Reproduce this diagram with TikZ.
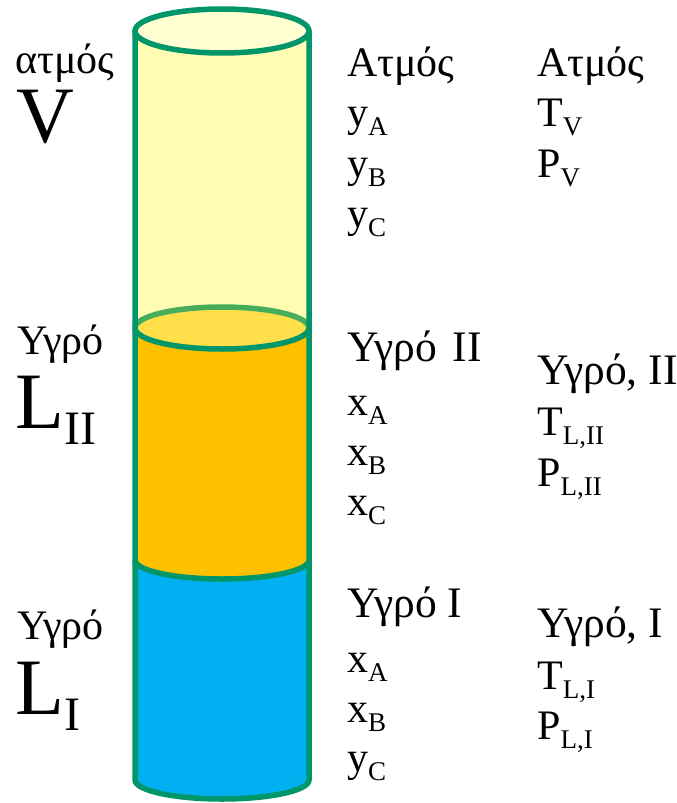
\documentclass[tikz,border=0pt]{standalone}
\usepackage{fontspec}
\setmainfont{Liberation Serif}
\definecolor{outl}{HTML}{00966A}
\definecolor{outlback}{HTML}{47AD5B}
\definecolor{yelbody}{HTML}{FFFDB3}
\definecolor{yeltop}{HTML}{FFFFD2}
\definecolor{goldtop}{HTML}{FFE04A}
\definecolor{orangebody}{HTML}{FFC000}
\definecolor{bluebody}{HTML}{00B0F0}
\newcommand{\sbs}[1]{\raisebox{-0.22em}{\fontsize{27}{27}\selectfont #1}}
\newcommand{\sbb}[1]{\raisebox{-0.2em}{\fontsize{48}{48}\selectfont #1}}
\tikzset{
  lbl/.style={anchor=base west, inner sep=0pt, font=\fontsize{42}{50}\selectfont},
  head/.style={anchor=base west, inner sep=0pt, font=\fontsize{43.5}{52}\selectfont},
  big/.style={anchor=base west, inner sep=0pt, font=\fontsize{80}{88}\selectfont},
  wall/.style={draw=outl, line width=5.5pt},
}
\begin{document}
\begin{tikzpicture}[x=1pt,y=-1pt]
\useasboundingbox (0,0) rectangle (677,803);
% blue part
\fill[bluebody] (135,560) -- (135,780) arc[start angle=180, end angle=360, x radius=87, y radius=-19] -- (309,560) arc[start angle=0, end angle=-180, x radius=87, y radius=19] -- cycle;
% orange part
\fill[orangebody] (135,328) -- (135,560) arc[start angle=180, end angle=360, x radius=87, y radius=-19] -- (309,328) -- cycle;
% yellow part
\fill[yelbody] (135,31) rectangle (309,328);
% middle ellipse
\fill[goldtop] (222,328) ellipse[x radius=87, y radius=21];
\draw[outlback, line width=5.5pt] (135,328) arc[start angle=180, end angle=0, x radius=87, y radius=-21];
\draw[wall] (135,328) arc[start angle=180, end angle=360, x radius=87, y radius=-21];
% top ellipse
\fill[yeltop] (222,31) ellipse[x radius=87, y radius=22];
\draw[wall] (222,31) ellipse[x radius=87, y radius=22];
% walls
\draw[wall, line join=round] (135,31) -- (135,780) arc[start angle=180, end angle=360, x radius=87, y radius=-19] -- (309,31);
\draw[wall] (135,560) arc[start angle=180, end angle=360, x radius=87, y radius=-19];
% left labels
\node[lbl] (atmL) at (15,73) {ατμός};
\node[big] (V) at (16,142) {V};
\node[lbl] (ygrL2) at (17,354) {Υγρό};
\node[big] (L2) at (15,428) {L\sbb{II}};
\node[lbl] (ygrL1) at (17,639) {Υγρό};
\node[big] (L1) at (15,714) {L\sbb{I}};
% middle labels
\node[lbl] (atmM) at (347,76) {Ατμός};
\node[lbl] (yA) at (347,126) {y\sbs{A}};
\node[lbl] (yB) at (347,177) {y\sbs{B}};
\node[lbl] (yC) at (347,227) {y\sbs{C}};
\node[head] (ygrM2) at (347,361) {Υγρό\hspace{0.12em} II};
\node[lbl] (xA2) at (347,415) {x\sbs{A}};
\node[lbl] (xB2) at (347,465) {x\sbs{B}};
\node[lbl] (xC2) at (347,515) {x\sbs{C}};
\node[head] (ygrM1) at (347,617) {Υγρό I};
\node[lbl] (xA1) at (347,672) {x\sbs{A}};
\node[lbl] (xB1) at (347,722) {x\sbs{B}};
\node[lbl] (yC1) at (347,771) {y\sbs{C}};
% right labels
\node[lbl] (atmR) at (537,76) {Ατμός};
\node[lbl] (TV) at (537,126) {T\sbs{V}};
\node[lbl] (PV) at (537,177) {P\sbs{V}};
\node[head] (ygrR2) at (537,384) {Υγρό, II};
\node[lbl] (TL2) at (537,435) {T\sbs{L,II}};
\node[lbl] (PL2) at (537,486) {P\sbs{L,II}};
\node[head] (ygrR1) at (537,637) {Υγρό, I};
\node[lbl] (TL1) at (537,689) {T\sbs{L,I}};
\node[lbl] (PL1) at (537,739) {P\sbs{L,I}};
\end{tikzpicture}
\end{document}
